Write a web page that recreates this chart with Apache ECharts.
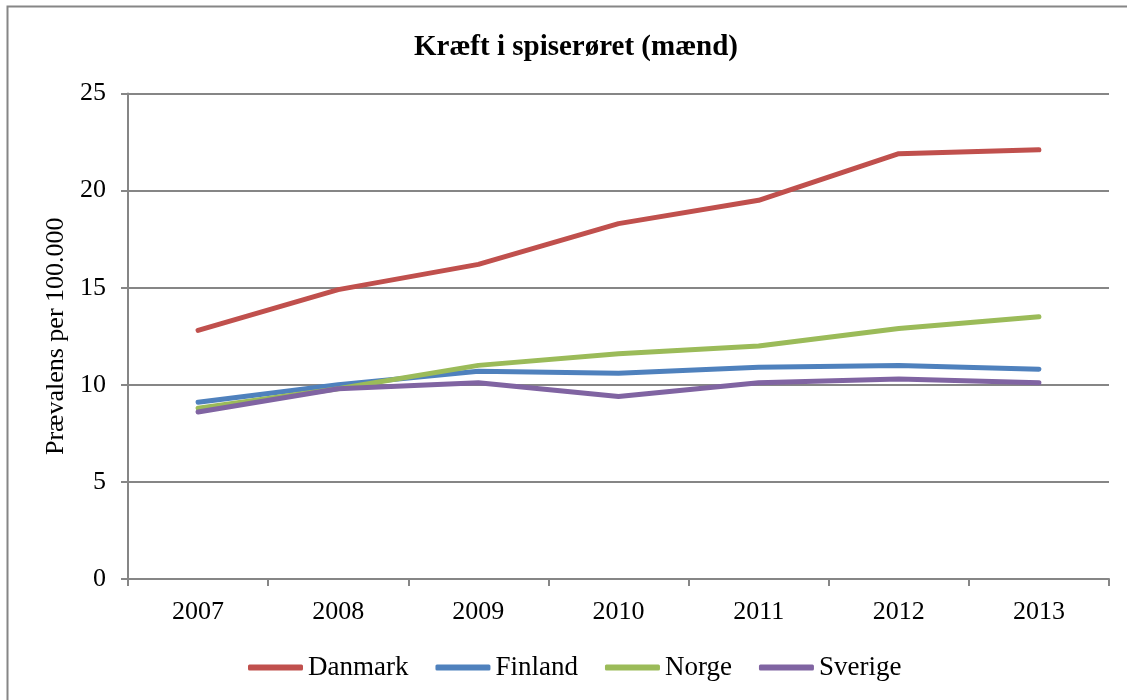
<!DOCTYPE html>
<html>
<head>
<meta charset="utf-8">
<script src="https://cdn.jsdelivr.net/npm/echarts@6/dist/echarts.min.js"></script>
<style>
  html, body { margin: 0; padding: 0; background: #ffffff; }
  #chart { width: 1127px; height: 700px; }
</style>
</head>
<body>
<div id="chart"></div>
<script>
// Prævalens af kræft i spiserøret blandt mænd, per 100.000
const years = ['2007', '2008', '2009', '2010', '2011', '2012', '2013'];
const danmark = [12.8, 14.9, 16.2, 18.3, 19.5, 21.9, 22.1];
const finland = [9.1, 10.0, 10.7, 10.6, 10.9, 11.0, 10.8];
const norge   = [8.8, 9.8, 11.0, 11.6, 12.0, 12.9, 13.5];
const sverige = [8.6, 9.8, 10.1, 9.4, 10.1, 10.3, 10.1];
const yTicks = [0, 5, 10, 15, 20, 25];

const serieList = [
  { name: 'Danmark', data: danmark, color: '#C0504D' },
  { name: 'Finland', data: finland, color: '#4F81BD' },
  { name: 'Norge',   data: norge,   color: '#9BBB59' },
  { name: 'Sverige', data: sverige, color: '#8064A2' }
];

const font = '"Liberation Serif", "Times New Roman", serif';
const gray = '#868686';

const chart = echarts.init(document.getElementById('chart'), null, { renderer: 'canvas' });
chart.setOption({
  backgroundColor: '#ffffff',
  animation: false,
  graphic: [{
    type: 'rect',
    shape: { x: 7.5, y: 6.5, width: 1140, height: 720 },
    style: { fill: 'none', stroke: gray, lineWidth: 2 },
    silent: true
  }],
  title: {
    text: 'Kræft i spiserøret (mænd)',
    left: 571,
    textAlign: 'center',
    top: 28,
    textStyle: { fontFamily: font, fontWeight: 'bold', fontSize: 29, color: '#000' }
  },
  legend: {
    top: 649,
    left: 243,
    itemWidth: 55,
    itemHeight: 6,
    itemGap: 27,
    icon: 'roundRect',
    textStyle: { fontFamily: font, fontSize: 27, color: '#000' },
    data: serieList.map(s => s.name)
  },
  grid: { left: 128, right: 18, top: 93.5, bottom: 121, containLabel: false },
  xAxis: {
    type: 'category',
    data: years,
    boundaryGap: true,
    axisLine: { lineStyle: { color: gray, width: 2 } },
    axisTick: { show: true, length: 7, alignWithLabel: false, lineStyle: { color: gray, width: 2 } },
    axisLabel: { fontFamily: font, fontSize: 26, color: '#000', margin: 20 },
    splitLine: { show: false }
  },
  yAxis: {
    type: 'value',
    min: yTicks[0],
    max: yTicks[yTicks.length - 1],
    interval: 5,
    name: 'Prævalens per 100.000',
    nameLocation: 'middle',
    nameGap: 54,
    nameRotate: 90,
    nameTextStyle: { fontFamily: font, fontSize: 26, color: '#000' },
    axisLine: { show: true, lineStyle: { color: gray, width: 2 } },
    axisTick: { show: true, length: 7, lineStyle: { color: gray, width: 2 } },
    axisLabel: { fontFamily: font, fontSize: 26, color: '#000', margin: 22 },
    splitLine: { show: true, lineStyle: { color: gray, width: 2 } }
  },
  series: serieList.map(s => ({
    name: s.name,
    type: 'line',
    data: s.data,
    showSymbol: false,
    symbol: 'none',
    color: s.color,
    lineStyle: { color: s.color, width: 5, cap: 'round', join: 'round' },
    itemStyle: { color: s.color }
  }))
});
</script>
</body>
</html>
